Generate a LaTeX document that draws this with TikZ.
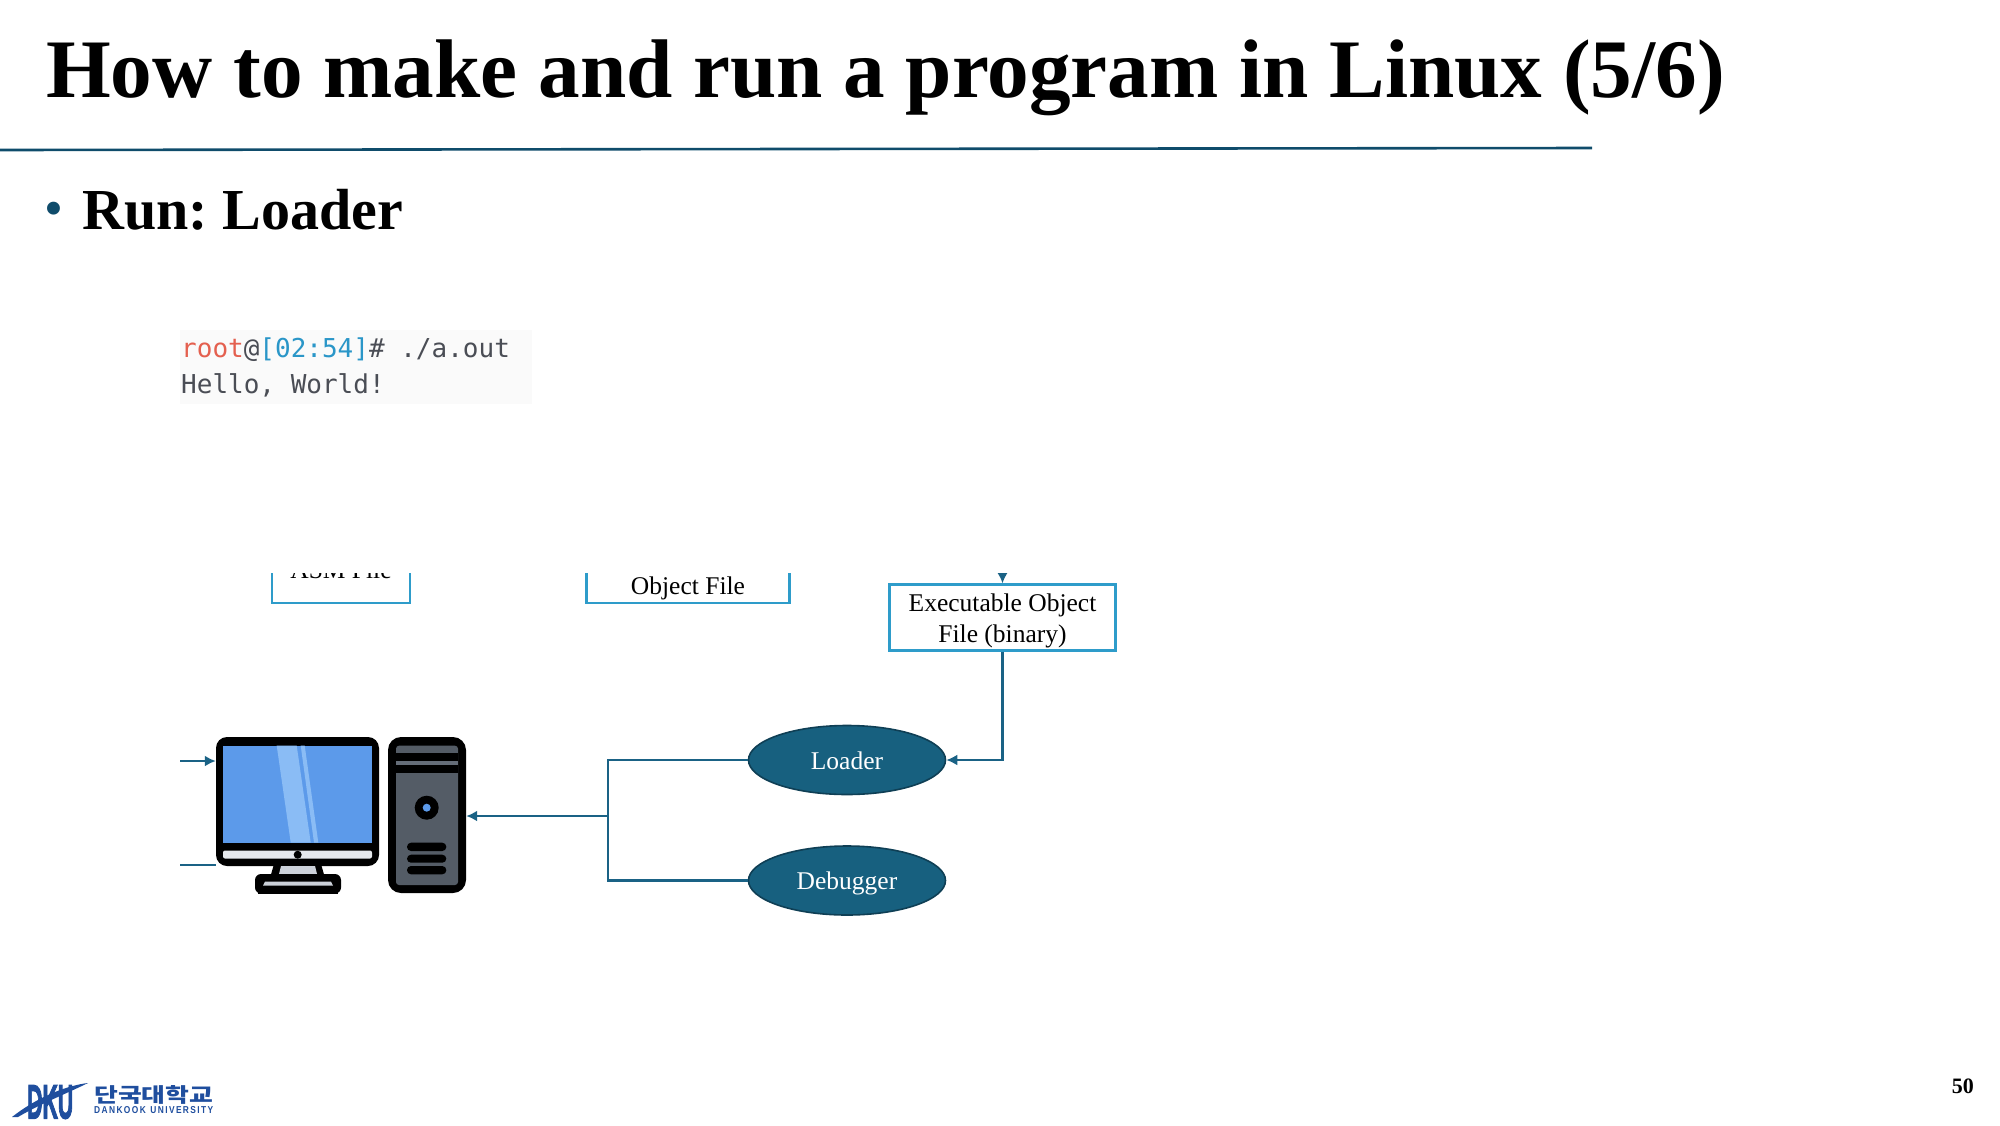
\documentclass[tikz,border=0pt]{standalone}
\usepackage{fontspec}
\usepackage{graphicx}
\setmainfont{Liberation Serif}
\setmonofont{DejaVu Sans Mono}
\newfontfamily\krfont{Noto Sans CJK KR}
\newfontfamily\logofont{Liberation Sans}
\newfontfamily\logoheavy[BoldFeatures={FakeBold=3}]{Liberation Sans}
\usetikzlibrary{shapes.geometric,arrows.meta}
\definecolor{rulecol}{HTML}{0F4C6B}
\definecolor{linkcol}{HTML}{1A6285}
\definecolor{boxcol}{HTML}{2E9CCA}
\definecolor{ovalcol}{HTML}{17607F}
\definecolor{ovaledge}{HTML}{0F3F55}
\definecolor{termbg}{HTML}{FAFAFA}
\definecolor{termgray}{HTML}{4A4D55}
\definecolor{termred}{HTML}{E4604F}
\definecolor{termblue}{HTML}{2A96C8}
\definecolor{screenblue}{HTML}{5C9AEA}
\definecolor{screenlight}{HTML}{8ABCF5}
\definecolor{chincol}{HTML}{E6E9ED}
\definecolor{standcol}{HTML}{CCD1D9}
\definecolor{towercol}{HTML}{545C66}
\definecolor{towerlight}{HTML}{656D78}
\definecolor{logocol}{HTML}{1F4E9E}
\newcommand{\fs}[1]{\fontsize{#1}{#1}\selectfont}
\frenchspacing
\tikzset{
  link/.style={draw=linkcol,line width=2.4pt},
  linkarrow/.style={link,-{Latex[length=11pt,width=11pt]}},
  filebox/.style={rectangle,draw=boxcol,line width=2.2pt,fill=white,inner sep=0pt},
  oval/.style={ellipse,draw=ovaledge,line width=1.6pt,fill=ovalcol,text=white,minimum width=197pt,minimum height=69pt,inner sep=0pt,font=\fs{25.5},text height=18pt,text depth=0pt},
  lbl/.style={inner sep=0pt,font=\fs{25.5},text=black},
}
\begin{document}
\begin{tikzpicture}[x=1pt,y=-1pt]
\useasboundingbox (0,0) rectangle (2000,1125);
% title
\node[anchor=base west,inner sep=0pt,font=\fs{83.2}\bfseries] (title) at (46,97) {How to make and run a program in Linux (5/6)};
\coordinate (ruleL) at (0,150);
\coordinate (ruleR) at (1592,148);
\draw[rulecol,line width=2.6pt] (ruleL) -- (ruleR);
\node[anchor=base west,inner sep=0pt,font=\fs{54},text=rulecol] (bullet) at (44,226) {•};
\node[anchor=base west,inner sep=0pt,font=\fs{58}\bfseries] (run) at (82,229) {Run: Loader};
% terminal
\fill[termbg] (180,330) rectangle (532,404);
\node[anchor=base west,inner sep=0pt,font=\ttfamily\fs{26}] (term1) at (181,357) {\textcolor{termred}{root}\textcolor{termgray}{@}\textcolor{termblue}{[02:54]}\textcolor{termgray}{\#\ ./a.out}};
\node[anchor=base west,inner sep=0pt,font=\ttfamily\fs{26},text=termgray] (term2) at (181,393) {Hello, World!};
% clipped upper boxes
\begin{scope}
\clip (0,573) rectangle (2000,1125);
\node[filebox,minimum width=138pt,minimum height=66pt] (asm) at (341,570) {};
\node[lbl,anchor=base] (asmt) at (341,578) {ASM File};
\node[filebox,minimum width=203pt,minimum height=66pt] (obj) at (688,570) {};
\node[lbl,anchor=base] (objt) at (688,594) {Object File};
\coordinate (execin) at (1002.5,560);
\end{scope}
% exec box
\node[filebox,minimum width=226pt,minimum height=66pt] (exec) at (1002.5,617.5) {};
\node[lbl,anchor=base] (exec1) at (1002.5,611) {Executable Object};
\node[lbl,anchor=base] (exec2) at (1002.5,642) {File (binary)};
\begin{scope}
\clip (0,573) rectangle (2000,1125);
\draw[linkarrow] (execin) -- (exec.north);
\end{scope}
% ovals
\node[oval] (loader) at (847,760) {Loader};
\node[oval] (debugger) at (847,880.5) {Debugger};
% computer: monitor
\node[rectangle,fill=black,rounded corners=11pt,minimum width=163pt,minimum height=129pt,inner sep=0pt] (monitor) at (297.5,801.5) {};
\fill[screenblue] (223,745.5) rectangle (372,842.5);
\fill[screenlight] (276.7,745.5) -- (296.7,745.5) -- (310.7,842.5) -- (290.7,842.5) -- cycle;
\fill[screenlight] (300.7,745.5) -- (304.7,745.5) -- (318.3,842.5) -- (314,842.5) -- cycle;
\fill[chincol,rounded corners=2pt] (223,850.5) rectangle (372,858.5);
\fill[black] (297.7,854.7) circle (4pt);
\fill[black] (274,864) -- (321,864) -- (325,878) -- (270,878) -- cycle;
\fill[standcol] (281,866) -- (315,866) -- (317,874) -- (279,874) -- cycle;
\fill[black,rounded corners=6pt] (255,893.5) -- (255,874) -- (341,874) -- (341,893.5) -- cycle;
\fill[black] (258,886) rectangle (338,893.5);
\fill[standcol] (265,881.5) -- (331,881.5) -- (333,885.7) -- (263,885.7) -- cycle;
% computer: tower
\node[rectangle,fill=black,rounded corners=13pt,minimum width=78pt,minimum height=156pt,inner sep=0pt] (tower) at (427,815) {};
\fill[towercol,rounded corners=3pt] (396,745.7) rectangle (458,885);
\fill[black] (396,753.3) rectangle (458,761);
\fill[towerlight] (396,761) rectangle (458,765);
\fill[black] (396,765) rectangle (458,772.7);
\fill[black] (426.7,807.7) circle (12pt);
\fill[screenblue] (426.7,807.7) circle (4pt);
\fill[black,rounded corners=4pt] (407,842.7) rectangle (446.3,851);
\fill[black,rounded corners=4pt] (407,854.7) rectangle (446.3,862.7);
\fill[black,rounded corners=4pt] (407,866) rectangle (446.3,874.3);
% connectors
\coordinate (bus) at (608,816);
\coordinate (inA) at (180,761);
\coordinate (inB) at (180,865);
\draw[link] (loader.west) -| (bus);
\draw[link] (debugger.west) -| (bus);
\draw[linkarrow] (bus) -- (tower.east |- bus);
\draw[linkarrow] (exec.south) |- (loader.east);
\draw[linkarrow] (inA) -- (monitor.west |- inA);
\draw[link] (inB) -- (monitor.west |- inB);
% page number
\node[anchor=base east,inner sep=0pt,font=\fs{22}\bfseries] (page) at (1974,1093) {50};
% logo
\fill[logocol] (12,1117) .. controls (40,1095) and (70,1085) .. (88,1083) .. controls (70,1092) and (40,1104) .. (18,1117) -- cycle;
\node[anchor=south west,inner sep=0pt,text=logocol] (dku) at (27,1119) {\resizebox{46pt}{33pt}{\logoheavy\bfseries DKU}};
\node[anchor=south west,inner sep=0pt,text=logocol] (kr) at (94,1104.5) {\resizebox{119pt}{17pt}{\krfont\bfseries 단국대학교}};
\node[anchor=south west,inner sep=0pt,text=logocol] (univ) at (94,1114) {\resizebox{119pt}{7pt}{\logofont\bfseries D\,A\,N\,K\,O\,O\,K\ \ U\,N\,I\,V\,E\,R\,S\,I\,T\,Y}};
\end{tikzpicture}
\end{document}
